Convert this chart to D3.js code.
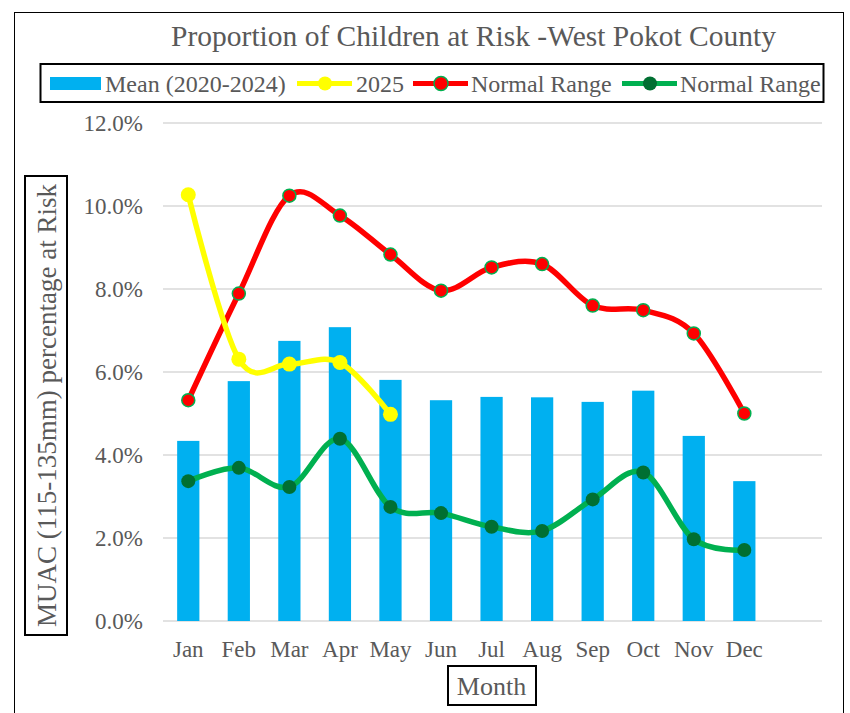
<!DOCTYPE html>
<html>
<head>
<meta charset="utf-8">
<script src="https://cdn.jsdelivr.net/npm/d3@7"></script>
<style>
  body { margin: 0; background: #fff; }
  text { font-family: "Liberation Serif", "Times New Roman", serif; fill: #595959; }
</style>
</head>
<body>
<div id="chart"></div>
<script>
const months = ["Jan", "Feb", "Mar", "Apr", "May", "Jun", "Jul", "Aug", "Sep", "Oct", "Nov", "Dec"];
const meanValues = [4.34, 5.78, 6.75, 7.08, 5.81, 5.32, 5.40, 5.39, 5.28, 5.55, 4.46, 3.37];
const values2025 = [10.27, 6.31, 6.19, 6.23, 4.98];
const upperRange = [5.32, 7.89, 10.25, 9.77, 8.83, 7.96, 8.52, 8.60, 7.60, 7.49, 6.93, 5.00];
const lowerRange = [3.37, 3.69, 3.23, 4.39, 2.75, 2.60, 2.27, 2.17, 2.93, 3.58, 1.97, 1.71];
const yTicks = [0, 2, 4, 6, 8, 10, 12];

const W = 850, H = 713;
const svg = d3.select('#chart').append('svg')
  .attr('width', W).attr('height', H);

// outer frame
svg.append('rect')
  .attr('x', 14.5).attr('y', 12.5).attr('width', 829).attr('height', 710)
  .attr('fill', 'none').attr('stroke', '#000').attr('stroke-width', 1);

const left = 163, gridRight = 822, step = 50.55;
const x = d3.scaleBand().domain(months)
  .range([left, left + step * 12])
  .paddingInner(0.56).paddingOuter(0.28);
const cx = d => x(d) + x.bandwidth() / 2;
const y = d3.scaleLinear().domain([0, 12]).range([621, 123]);

// gridlines
svg.append('g').selectAll('line').data(yTicks).join('line')
  .attr('x1', left).attr('x2', gridRight)
  .attr('y1', d => y(d)).attr('y2', d => y(d))
  .attr('stroke', '#d9d9d9').attr('stroke-width', 1.5);

// y tick labels
svg.append('g').selectAll('text').data(yTicks).join('text')
  .attr('x', 143).attr('y', d => y(d) + 7.5)
  .attr('text-anchor', 'end').attr('font-size', 23)
  .text(d => d.toFixed(1) + '%');

// month labels
svg.append('g').selectAll('text').data(months).join('text')
  .attr('x', d => cx(d)).attr('y', 657)
  .attr('text-anchor', 'middle').attr('font-size', 23)
  .text(d => d);

// bars
svg.append('g').selectAll('rect').data(meanValues).join('rect')
  .attr('x', (d, i) => x(months[i]))
  .attr('width', x.bandwidth())
  .attr('y', d => y(d))
  .attr('height', d => y(0) - y(d))
  .attr('fill', '#00b0f0');

const line = d3.line()
  .x((d, i) => cx(months[i]))
  .y(d => y(d))
  .curve(d3.curveCatmullRom.alpha(0));

function drawSeries(vals, color, markerFill, markerStroke, r) {
  svg.append('path').datum(vals)
    .attr('d', line)
    .attr('fill', 'none').attr('stroke', color)
    .attr('stroke-width', 5.5).attr('stroke-linecap', 'round');
  svg.append('g').selectAll('circle').data(vals).join('circle')
    .attr('cx', (d, i) => cx(months[i]))
    .attr('cy', d => y(d))
    .attr('r', r)
    .attr('fill', markerFill)
    .attr('stroke', markerStroke)
    .attr('stroke-width', markerStroke === 'none' ? 0 : 1.5);
}

drawSeries(lowerRange, '#00b050', '#006f32', 'none', 7);
drawSeries(upperRange, '#ff0000', '#ff0000', '#00b050', 6.5);
drawSeries(values2025, '#ffff00', '#ffff00', 'none', 7.5);

// title
svg.append('text')
  .attr('x', 473.5).attr('y', 46)
  .attr('text-anchor', 'middle').attr('font-size', 29.5)
  .text('Proportion of Children at Risk -West Pokot County');

// legend
const lg = svg.append('g');
lg.append('rect')
  .attr('x', 40.5).attr('y', 64).attr('width', 783).attr('height', 38)
  .attr('fill', '#fff').attr('stroke', '#000').attr('stroke-width', 2);
const ly = 83.5;
lg.append('rect').attr('x', 50).attr('y', ly - 6.5).attr('width', 51).attr('height', 13).attr('fill', '#00b0f0');
lg.append('text').attr('x', 105).attr('y', ly + 8).attr('font-size', 24).text('Mean (2020-2024)');

const legendLines = [
  { x0: 297, color: '#ffff00', fill: '#ffff00', stroke: 'none', label: '2025', tx: 356 },
  { x0: 413, color: '#ff0000', fill: '#ff0000', stroke: '#00b050', label: 'Normal Range', tx: 471 },
  { x0: 622, color: '#00b050', fill: '#006f32', stroke: 'none', label: 'Normal Range', tx: 680 }
];
legendLines.forEach(l => {
  lg.append('line').attr('x1', l.x0).attr('x2', l.x0 + 55)
    .attr('y1', ly).attr('y2', ly)
    .attr('stroke', l.color).attr('stroke-width', 5);
  lg.append('circle').attr('cx', l.x0 + 28).attr('cy', ly).attr('r', 7)
    .attr('fill', l.fill).attr('stroke', l.stroke).attr('stroke-width', l.stroke === 'none' ? 0 : 1.5);
  lg.append('text').attr('x', l.tx).attr('y', ly + 8).attr('font-size', 24).text(l.label);
});

// y axis title
const yt = svg.append('g').attr('transform', 'translate(46,405.5) rotate(-90)');
yt.append('rect').attr('x', -229.5).attr('y', -21).attr('width', 459).attr('height', 42)
  .attr('fill', '#fff').attr('stroke', '#000').attr('stroke-width', 2);
yt.append('text').attr('x', 0).attr('y', 9.5).attr('text-anchor', 'middle')
  .attr('font-size', 27).text('MUAC (115-135mm)  percentage at Risk');

// x axis title
svg.append('rect').attr('x', 448).attr('y', 666).attr('width', 88).attr('height', 39)
  .attr('fill', '#fff').attr('stroke', '#000').attr('stroke-width', 2);
svg.append('text').attr('x', 491.5).attr('y', 694.5).attr('text-anchor', 'middle')
  .attr('font-size', 26).text('Month');
</script>
</body>
</html>
